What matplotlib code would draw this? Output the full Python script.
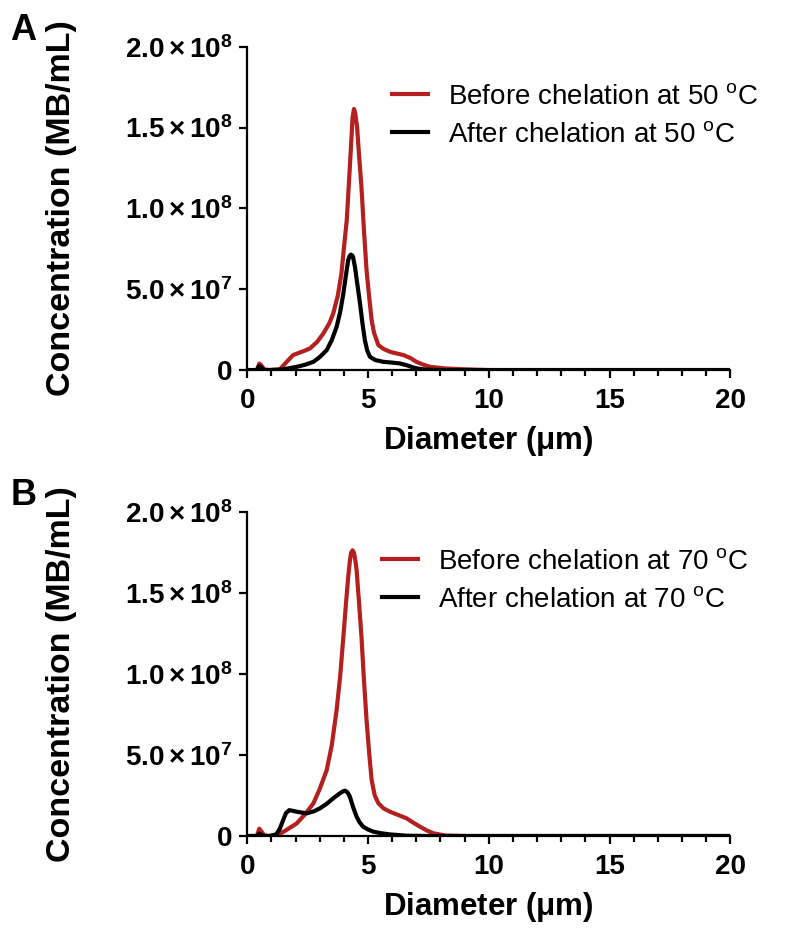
import numpy as np
import matplotlib
matplotlib.use('Agg')
import matplotlib.pyplot as plt
from matplotlib.ticker import MultipleLocator, FixedLocator

plt.rcParams['font.family'] = ['Liberation Sans', 'DejaVu Sans']
plt.rcParams['mathtext.fontset'] = 'custom'
plt.rcParams['mathtext.rm'] = 'Liberation Sans'
plt.rcParams['mathtext.bf'] = 'Liberation Sans:bold'
plt.rcParams['mathtext.it'] = 'Liberation Sans:italic'

# -----------------------------------------------------------------------------
# data (concentration in units of 1e7 MB/mL)
# -----------------------------------------------------------------------------
xa_before = [0.0, 0.4, 0.5, 0.58, 0.7, 0.9, 1.35, 1.6, 1.9, 2.3, 2.6, 2.9, 3.15, 3.4, 3.56,
             3.75, 3.9, 4.0, 4.12, 4.2, 4.28, 4.36, 4.42, 4.47, 4.55, 4.62, 4.73, 4.83,
             4.94, 5.05, 5.15, 5.25, 5.43, 5.65, 5.91, 6.2, 6.46, 6.75, 7.0, 7.3, 7.57,
             8.2, 8.9, 10.0, 20.0]
ya_before = [0.0, 0.0, 0.4, 0.3, 0.05, 0.0, 0.05, 0.45, 0.93, 1.15, 1.34, 1.75, 2.26, 2.9, 3.5,
             4.6, 5.97, 7.5, 9.26, 11.3, 13.4, 15.6, 16.15, 15.9, 15.0, 13.5, 11.3, 8.7,
             6.17, 4.5, 3.09, 2.3, 1.54, 1.3, 1.13, 1.02, 0.93, 0.75, 0.51, 0.33, 0.2,
             0.1, 0.05, 0.0, 0.0]

xa_after = [0.0, 0.4, 0.5, 0.58, 0.7, 0.9, 1.35, 1.7, 2.05, 2.4, 2.74, 3.0, 3.29, 3.5, 3.7,
            3.85, 3.98, 4.08, 4.18, 4.24, 4.29, 4.34, 4.38, 4.46, 4.56, 4.67, 4.77, 4.87,
            4.97, 5.08, 5.3, 5.63, 6.0, 6.32, 6.6, 6.87, 7.1, 7.4, 8.0, 20.0]
ya_after = [0.0, 0.0, 0.25, 0.15, 0.0, 0.0, 0.02, 0.1, 0.2, 0.33, 0.51, 0.8, 1.23, 1.85, 2.67,
            3.6, 4.73, 5.8, 6.79, 7.05, 7.14, 7.1, 7.0, 6.38, 5.3, 4.12, 2.9, 1.85,
            1.2, 0.82, 0.62, 0.51, 0.46, 0.41, 0.3, 0.16, 0.08, 0.03, 0.0, 0.0]

xb_before = [0.0, 0.4, 0.5, 0.58, 0.7, 0.9, 1.2, 1.6, 2.05, 2.4, 2.74, 3.0, 3.29, 3.5, 3.7,
             3.85, 3.98, 4.08, 4.18, 4.25, 4.3, 4.36, 4.42, 4.48, 4.53, 4.62, 4.73, 4.83,
             4.94, 5.05, 5.15, 5.28, 5.43, 5.65, 5.91, 6.25, 6.6, 6.9, 7.16, 7.45, 7.7,
             8.2, 9.0, 20.0]
yb_before = [0.0, 0.0, 0.45, 0.3, 0.05, 0.0, 0.0, 0.35, 0.78, 1.35, 2.02, 2.9, 4.07, 5.6, 7.78,
             9.9, 12.3, 14.2, 16.0, 17.0, 17.5, 17.65, 17.5, 17.0, 16.4, 14.6, 12.3, 9.7,
             7.16, 5.1, 3.46, 2.5, 2.02, 1.7, 1.5, 1.3, 1.09, 0.8, 0.57, 0.33, 0.17,
             0.03, 0.0, 0.0]

xb_after = [0.0, 0.4, 0.5, 0.58, 0.7, 0.9, 1.2, 1.35, 1.49, 1.6, 1.74, 1.9, 2.05, 2.46, 2.75,
            3.01, 3.3, 3.56, 3.8, 3.95, 4.05, 4.15, 4.25, 4.38, 4.53, 4.65, 4.8, 5.0, 5.22,
            5.5, 5.9, 6.6, 7.5, 20.0]
yb_after = [0.0, 0.0, 0.15, 0.08, 0.0, 0.0, 0.1, 0.45, 0.99, 1.4, 1.6, 1.55, 1.5, 1.4, 1.52,
            1.71, 2.0, 2.33, 2.6, 2.75, 2.8, 2.7, 2.43, 1.8, 1.19, 0.85, 0.57, 0.4, 0.27,
            0.18, 0.1, 0.02, 0.0, 0.0]

yticks = [0, 5e7, 1e8, 1.5e8, 2e8]
ytick_labels = [r'$\mathbf{0}$', r'$\mathbf{5.0\times10^{7}}$', r'$\mathbf{1.0\times10^{8}}$',
                r'$\mathbf{1.5\times10^{8}}$', r'$\mathbf{2.0\times10^{8}}$']

panels = [
    ('A', xa_before, ya_before, xa_after, ya_after, '50', [0.309, 0.608, 0.604, 0.3425], (0.299, 0.886)),
    ('B', xb_before, yb_before, xb_after, yb_after, '70', [0.309, 0.1144, 0.604, 0.3429], (0.278, 0.888)),
]

red = '#b3201f'

fig = plt.figure(figsize=(8, 9.44), dpi=100)

for letter, xbef, ybef, xaft, yaft, temp, rect, leg_pos in panels:
    ax = fig.add_axes(rect)
    ax.plot(xbef, np.array(ybef) * 1e7, color=red, lw=3,
            label='Before chelation at %s $^{\\rm o}$C' % temp, solid_joinstyle='round')
    ax.plot(xaft, np.array(yaft) * 1e7, color='black', lw=3,
            label='After chelation at %s $^{\\rm o}$C' % temp, solid_joinstyle='round')

    ax.set_xlim(0, 20)
    ax.set_ylim(0, 2e8)
    ax.spines['top'].set_visible(False)
    ax.spines['right'].set_visible(False)
    ax.spines['left'].set_linewidth(1.6)
    ax.spines['bottom'].set_linewidth(1.6)

    ax.xaxis.set_major_locator(MultipleLocator(5))
    ax.xaxis.set_minor_locator(MultipleLocator(1))
    ax.yaxis.set_major_locator(FixedLocator(yticks))
    ax.set_yticklabels(ytick_labels)
    ax.tick_params(axis='both', which='major', direction='out', length=6, width=1.6,
                   labelsize=20, pad=5)
    ax.tick_params(axis='x', which='major', pad=7)
    ax.tick_params(axis='x', which='minor', direction='out', length=4, width=1.6)
    for lab in ax.get_xticklabels():
        lab.set_fontweight('bold')

    ax.set_xlabel('Diameter ($\\mathbf{\\mu}$m)', fontsize=22.5, fontweight='bold', labelpad=7)
    ax.set_ylabel('Concentration (MB/mL)', fontsize=24.5, fontweight='bold')
    ax.yaxis.set_label_coords(-0.353, 0.5)

    ax.legend(loc='upper left', bbox_to_anchor=leg_pos, frameon=False, borderpad=0,
              borderaxespad=0, fontsize=20, handlelength=1.3, handletextpad=0.72,
              labelspacing=0.45)

    fig.text(0.013, rect[1] + rect[3] + 0.036, letter, fontsize=26, fontweight='bold',
             va='top', ha='left')

fig.savefig('out.png', dpi=100)
